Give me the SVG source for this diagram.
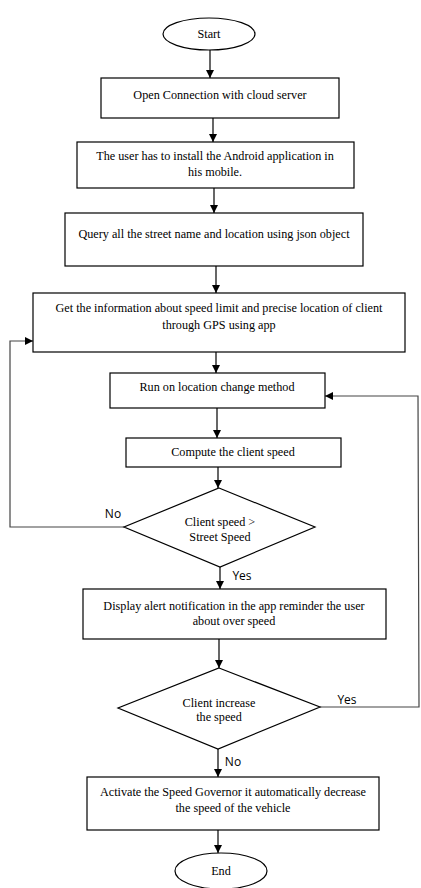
<svg xmlns="http://www.w3.org/2000/svg" width="421" height="888" viewBox="0 0 421 888">
<defs>
<style>
.box{fill:#fff;stroke:#000;stroke-width:1.2}
.t{font-family:"Liberation Serif","Times New Roman",serif;font-size:12.2px;fill:#000;text-anchor:middle}
.lbl{font-family:"Open Sans","Liberation Sans",sans-serif;font-size:12px;fill:#000;text-anchor:middle}
.c{fill:none;stroke:#000;stroke-width:1.2}
.g{fill:none;stroke:#444;stroke-width:1.2}
</style>
<marker id="ah" markerWidth="8" markerHeight="8" refX="8" refY="4" orient="auto" markerUnits="userSpaceOnUse">
<path d="M0,0 L8,4 L0,8 Z" fill="#000"/>
</marker>
</defs>
<rect width="421" height="888" fill="#fff"/>
<g id="connectors">
<line class="c" x1="210" y1="50" x2="210" y2="78" marker-end="url(#ah)"/>
<line class="c" x1="213" y1="118" x2="213" y2="142" marker-end="url(#ah)"/>
<line class="c" x1="214" y1="188" x2="214" y2="213" marker-end="url(#ah)"/>
<line class="c" x1="216" y1="266" x2="216" y2="293" marker-end="url(#ah)"/>
<line class="c" x1="216" y1="352" x2="216" y2="373" marker-end="url(#ah)"/>
<line class="c" x1="217" y1="408" x2="217" y2="438" marker-end="url(#ah)"/>
<line class="c" x1="218" y1="467" x2="218" y2="488" marker-end="url(#ah)"/>
<line class="c" x1="220" y1="567" x2="220" y2="589" marker-end="url(#ah)"/>
<line class="c" x1="219" y1="639" x2="219" y2="668" marker-end="url(#ah)"/>
<line class="c" x1="218" y1="749" x2="218" y2="777" marker-end="url(#ah)"/>
<line class="c" x1="218" y1="830" x2="218" y2="853" marker-end="url(#ah)"/>
<polyline class="g" points="124,527 10,527 10,341 33,341" marker-end="url(#ah)"/>
<polyline class="g" points="320,707 419,707 418,396 325,396" marker-end="url(#ah)"/>
<text class="lbl" x="113" y="518">No</text>
<text class="lbl" x="242" y="580">Yes</text>
<text class="lbl" x="347" y="704">Yes</text>
<text class="lbl" x="233" y="766">No</text>
</g>
<g id="start">
<ellipse class="box" cx="209" cy="34" rx="46" ry="16"/>
<text class="t" x="209" y="38">Start</text>
</g>
<g id="open-connection">
<rect class="box" x="101" y="78" width="238" height="40"/>
<text class="t" x="220" y="99">Open Connection with cloud server</text>
</g>
<g id="install-app">
<rect class="box" x="77" y="142" width="277" height="46"/>
<text class="t" x="215" y="160">The user has to install the Android application in</text>
<text class="t" x="215" y="176">his mobile.</text>
</g>
<g id="query">
<rect class="box" x="65" y="213" width="298" height="53"/>
<text class="t" x="214" y="238">Query all the street name and location using json object</text>
</g>
<g id="get-info">
<rect class="box" x="33" y="293" width="372" height="59"/>
<text class="t" x="219" y="312">Get the information about speed limit and precise location of client</text>
<text class="t" x="219" y="329">through GPS using app</text>
</g>
<g id="run-location">
<rect class="box" x="110" y="373" width="215" height="35"/>
<text class="t" x="217" y="391">Run on location change method</text>
</g>
<g id="compute">
<rect class="box" x="126" y="438" width="215" height="29"/>
<text class="t" x="233" y="456">Compute the client speed</text>
</g>
<g id="decision-speed">
<polygon class="box" points="219,488 315,527 220,567 124,527"/>
<text class="t" x="220" y="526">Client speed &gt;</text>
<text class="t" x="220" y="541">Street Speed</text>
</g>
<g id="display-alert">
<rect class="box" x="83" y="589" width="303" height="50"/>
<text class="t" x="234" y="610">Display alert notification in the app reminder the user</text>
<text class="t" x="234" y="625">about over speed</text>
</g>
<g id="decision-increase">
<polygon class="box" points="219,668 320,707 218,749 118,708"/>
<text class="t" x="219" y="707">Client increase</text>
<text class="t" x="219" y="721">the speed</text>
</g>
<g id="activate-governor">
<rect class="box" x="87" y="777" width="292" height="53"/>
<text class="t" x="233" y="796">Activate the Speed Governor it automatically decrease</text>
<text class="t" x="233" y="812">the speed of the vehicle</text>
</g>
<g id="end">
<ellipse class="box" cx="221" cy="871" rx="46" ry="18"/>
<text class="t" x="221" y="875">End</text>
</g>
</svg>
